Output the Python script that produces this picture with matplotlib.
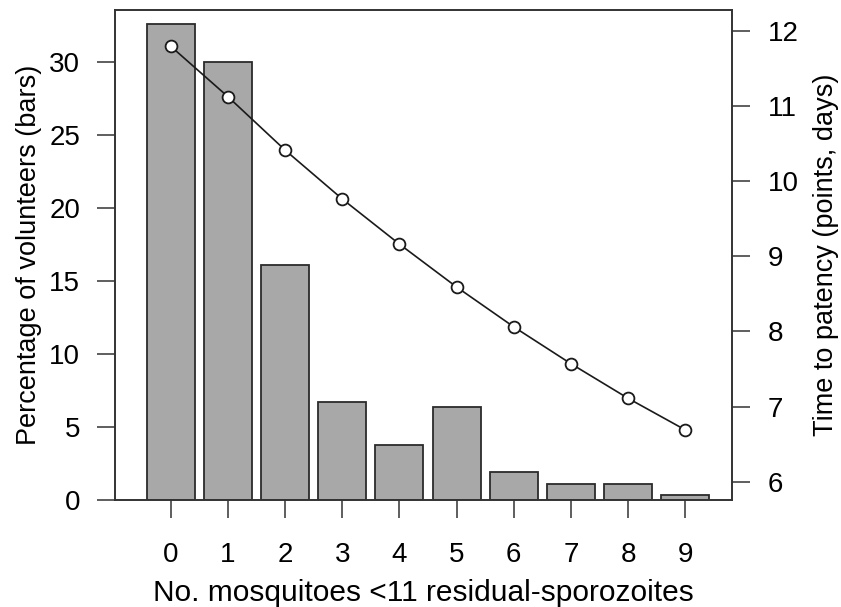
import numpy as np
import matplotlib.pyplot as plt

plt.rcParams['font.family'] = ['Liberation Sans', 'DejaVu Sans']

mosquitoes = [0, 1, 2, 3, 4, 5, 6, 7, 8, 9]
pct_volunteers = [32.6, 30.0, 16.1, 6.7, 3.8, 6.4, 1.9, 1.1, 1.1, 0.35]
time_patency = [11.79, 11.12, 10.41, 9.76, 9.16, 8.59, 8.06, 7.57, 7.11, 6.69]

fs = 20

fig = plt.figure(figsize=(8.41, 6.07), dpi=100)
ax = fig.add_axes([0.1367, 0.1763, 0.7337, 0.8072])

ax.bar(mosquitoes, pct_volunteers, width=0.84, color='#a8a8a8',
       edgecolor='#2b2b2b', linewidth=1.3)
ax.set_xlim(-0.98, 9.82)
ax.set_ylim(0, 33.56)
ax.set_yticks([0, 5, 10, 15, 20, 25, 30])
ax.set_xticks(mosquitoes)
ax.tick_params(axis='both', labelsize=fs, length=13, width=1.1, color='#333333')
ax.tick_params(axis='x', pad=17)
ax.tick_params(axis='y', pad=12)
ax.set_xlabel("No. mosquitoes <11 residual-sporozoites", fontsize=21.5, labelpad=8)
ax.set_ylabel("Percentage of volunteers (bars)", fontsize=19.5, labelpad=5)
for s in ax.spines.values():
    s.set_linewidth(1.2)
    s.set_color('#333333')

ax2 = ax.twinx()
ax2.plot(mosquitoes, time_patency, color='#1a1a1a', linewidth=1.2,
         marker='o', markersize=8.5, markerfacecolor='white',
         markeredgecolor='#1a1a1a', markeredgewidth=1.3)
ax2.set_ylim(5.757, 12.275)
ax2.set_yticks([6, 7, 8, 9, 10, 11, 12])
ax2.tick_params(axis='y', labelsize=fs, length=13, width=1.1, color='#333333', pad=13)
ax2.set_ylabel("Time to patency (points, days)", fontsize=19.5, labelpad=10)
for s in ax2.spines.values():
    s.set_linewidth(1.2)
    s.set_color('#333333')

fig.savefig('out.png', dpi=100)
